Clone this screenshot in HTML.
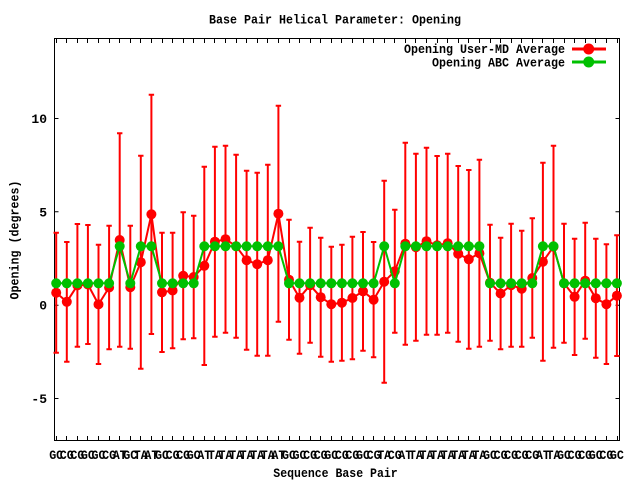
<!DOCTYPE html>
<html><head><meta charset="utf-8"><style>
html,body{margin:0;padding:0;background:#fff;}
svg{display:block;}
text{font-family:"Liberation Mono","DejaVu Sans Mono",monospace;font-weight:bold;font-size:13px;fill:#000;}
</style></head><body>
<svg width="640" height="480" viewBox="0 0 640 480" xmlns="http://www.w3.org/2000/svg">
<defs>
<circle id="r" r="5" fill="#ff0000"/>
<circle id="g" r="5" fill="#00c000"/>
</defs>
<rect x="0" y="0" width="640" height="480" fill="#fff"/>
<text x="209" y="23.3" textLength="252" lengthAdjust="spacingAndGlyphs">Base Pair Helical Parameter: Opening</text>
<rect x="54.5" y="38.5" width="565" height="402" fill="none" stroke="#000" stroke-width="1"/>
<path d="M54.5 118.5h4M54.5 211.8h4M54.5 305.2h4M54.5 398.5h4M619.5 118.5h-4M619.5 211.8h-4M619.5 305.2h-4M619.5 398.5h-4" stroke="#000" stroke-width="1"/>
<g text-anchor="end">
<text x="47" y="123">10</text>
<text x="47" y="216.3">5</text>
<text x="47" y="309.7">0</text>
<text x="47" y="403">-5</text>
</g>
<path stroke="#000" stroke-width="1" d="M56.5 440v-4M56.5 39v4M66.5 440v-4M66.5 39v4M77.5 440v-4M77.5 39v4M87.5 440v-4M87.5 39v4M98.5 440v-4M98.5 39v4M109.5 440v-4M109.5 39v4M119.5 440v-4M119.5 39v4M130.5 440v-4M130.5 39v4M140.5 440v-4M140.5 39v4M151.5 440v-4M151.5 39v4M162.5 440v-4M162.5 39v4M172.5 440v-4M172.5 39v4M183.5 440v-4M183.5 39v4M193.5 440v-4M193.5 39v4M204.5 440v-4M204.5 39v4M214.5 440v-4M214.5 39v4M225.5 440v-4M225.5 39v4M236.5 440v-4M236.5 39v4M246.5 440v-4M246.5 39v4M257.5 440v-4M257.5 39v4M267.5 440v-4M267.5 39v4M278.5 440v-4M278.5 39v4M289.5 440v-4M289.5 39v4M299.5 440v-4M299.5 39v4M310.5 440v-4M310.5 39v4M320.5 440v-4M320.5 39v4M331.5 440v-4M331.5 39v4M341.5 440v-4M341.5 39v4M352.5 440v-4M352.5 39v4M363.5 440v-4M363.5 39v4M373.5 440v-4M373.5 39v4M384.5 440v-4M384.5 39v4M394.5 440v-4M394.5 39v4M405.5 440v-4M405.5 39v4M415.5 440v-4M415.5 39v4M426.5 440v-4M426.5 39v4M437.5 440v-4M437.5 39v4M447.5 440v-4M447.5 39v4M458.5 440v-4M458.5 39v4M468.5 440v-4M468.5 39v4M479.5 440v-4M479.5 39v4M490.5 440v-4M490.5 39v4M500.5 440v-4M500.5 39v4M511.5 440v-4M511.5 39v4M521.5 440v-4M521.5 39v4M532.5 440v-4M532.5 39v4M542.5 440v-4M542.5 39v4M553.5 440v-4M553.5 39v4M564.5 440v-4M564.5 39v4M574.5 440v-4M574.5 39v4M585.5 440v-4M585.5 39v4M595.5 440v-4M595.5 39v4M606.5 440v-4M606.5 39v4M617.5 440v-4M617.5 39v4"/>
<g>
<text x="49.2" y="459" textLength="14" lengthAdjust="spacingAndGlyphs">GC</text>
<text x="59.8" y="459" textLength="14" lengthAdjust="spacingAndGlyphs">CG</text>
<text x="70.4" y="459" textLength="14" lengthAdjust="spacingAndGlyphs">CG</text>
<text x="80.9" y="459" textLength="14" lengthAdjust="spacingAndGlyphs">GC</text>
<text x="91.5" y="459" textLength="14" lengthAdjust="spacingAndGlyphs">GC</text>
<text x="102.1" y="459" textLength="14" lengthAdjust="spacingAndGlyphs">CG</text>
<text x="112.7" y="459" textLength="14" lengthAdjust="spacingAndGlyphs">AT</text>
<text x="123.3" y="459" textLength="14" lengthAdjust="spacingAndGlyphs">GC</text>
<text x="133.8" y="459" textLength="14" lengthAdjust="spacingAndGlyphs">TA</text>
<text x="144.4" y="459" textLength="14" lengthAdjust="spacingAndGlyphs">AT</text>
<text x="155" y="459" textLength="14" lengthAdjust="spacingAndGlyphs">GC</text>
<text x="165.6" y="459" textLength="14" lengthAdjust="spacingAndGlyphs">CG</text>
<text x="176.2" y="459" textLength="14" lengthAdjust="spacingAndGlyphs">CG</text>
<text x="186.7" y="459" textLength="14" lengthAdjust="spacingAndGlyphs">GC</text>
<text x="197.3" y="459" textLength="14" lengthAdjust="spacingAndGlyphs">AT</text>
<text x="207.9" y="459" textLength="14" lengthAdjust="spacingAndGlyphs">TA</text>
<text x="218.5" y="459" textLength="14" lengthAdjust="spacingAndGlyphs">TA</text>
<text x="229.1" y="459" textLength="14" lengthAdjust="spacingAndGlyphs">TA</text>
<text x="239.6" y="459" textLength="14" lengthAdjust="spacingAndGlyphs">TA</text>
<text x="250.2" y="459" textLength="14" lengthAdjust="spacingAndGlyphs">TA</text>
<text x="260.8" y="459" textLength="14" lengthAdjust="spacingAndGlyphs">TA</text>
<text x="271.4" y="459" textLength="14" lengthAdjust="spacingAndGlyphs">AT</text>
<text x="282" y="459" textLength="14" lengthAdjust="spacingAndGlyphs">GC</text>
<text x="292.5" y="459" textLength="14" lengthAdjust="spacingAndGlyphs">GC</text>
<text x="303.1" y="459" textLength="14" lengthAdjust="spacingAndGlyphs">CG</text>
<text x="313.7" y="459" textLength="14" lengthAdjust="spacingAndGlyphs">CG</text>
<text x="324.3" y="459" textLength="14" lengthAdjust="spacingAndGlyphs">GC</text>
<text x="334.9" y="459" textLength="14" lengthAdjust="spacingAndGlyphs">CG</text>
<text x="345.4" y="459" textLength="14" lengthAdjust="spacingAndGlyphs">CG</text>
<text x="356" y="459" textLength="14" lengthAdjust="spacingAndGlyphs">GC</text>
<text x="366.6" y="459" textLength="14" lengthAdjust="spacingAndGlyphs">CG</text>
<text x="377.2" y="459" textLength="14" lengthAdjust="spacingAndGlyphs">TA</text>
<text x="387.8" y="459" textLength="14" lengthAdjust="spacingAndGlyphs">CG</text>
<text x="398.3" y="459" textLength="14" lengthAdjust="spacingAndGlyphs">AT</text>
<text x="408.9" y="459" textLength="14" lengthAdjust="spacingAndGlyphs">TA</text>
<text x="419.5" y="459" textLength="14" lengthAdjust="spacingAndGlyphs">TA</text>
<text x="430.1" y="459" textLength="14" lengthAdjust="spacingAndGlyphs">TA</text>
<text x="440.7" y="459" textLength="14" lengthAdjust="spacingAndGlyphs">TA</text>
<text x="451.2" y="459" textLength="14" lengthAdjust="spacingAndGlyphs">TA</text>
<text x="461.8" y="459" textLength="14" lengthAdjust="spacingAndGlyphs">TA</text>
<text x="472.4" y="459" textLength="14" lengthAdjust="spacingAndGlyphs">TA</text>
<text x="483" y="459" textLength="14" lengthAdjust="spacingAndGlyphs">GC</text>
<text x="493.6" y="459" textLength="14" lengthAdjust="spacingAndGlyphs">CG</text>
<text x="504.1" y="459" textLength="14" lengthAdjust="spacingAndGlyphs">CG</text>
<text x="514.7" y="459" textLength="14" lengthAdjust="spacingAndGlyphs">CG</text>
<text x="525.3" y="459" textLength="14" lengthAdjust="spacingAndGlyphs">CG</text>
<text x="535.9" y="459" textLength="14" lengthAdjust="spacingAndGlyphs">AT</text>
<text x="546.5" y="459" textLength="14" lengthAdjust="spacingAndGlyphs">TA</text>
<text x="557" y="459" textLength="14" lengthAdjust="spacingAndGlyphs">GC</text>
<text x="567.6" y="459" textLength="14" lengthAdjust="spacingAndGlyphs">CG</text>
<text x="578.2" y="459" textLength="14" lengthAdjust="spacingAndGlyphs">CG</text>
<text x="588.8" y="459" textLength="14" lengthAdjust="spacingAndGlyphs">GC</text>
<text x="599.4" y="459" textLength="14" lengthAdjust="spacingAndGlyphs">CG</text>
<text x="609.9" y="459" textLength="14" lengthAdjust="spacingAndGlyphs">GC</text>
</g>
<text x="273.3" y="477" textLength="124.4" lengthAdjust="spacingAndGlyphs">Sequence Base Pair</text>
<text transform="translate(18.5,240) rotate(-90)" text-anchor="middle" textLength="119" lengthAdjust="spacingAndGlyphs">Opening (degrees)</text>
<path fill="none" stroke="#ff0000" stroke-width="2" d="M56.2 232.7V352.7M53.5 232.7h5.4M53.5 352.7h5.4M66.8 242V361.7M64.1 242h5.4M64.1 361.7h5.4M77.4 224V346.7M74.7 224h5.4M74.7 346.7h5.4M87.9 225V344M85.2 225h5.4M85.2 344h5.4M98.5 244.7V364M95.8 244.7h5.4M95.8 364h5.4M109.1 225.7V349.3M106.4 225.7h5.4M106.4 349.3h5.4M119.7 133.3V346.7M117 133.3h5.4M117 346.7h5.4M130.3 225.7V348.7M127.6 225.7h5.4M127.6 348.7h5.4M140.8 155.7V368.7M138.1 155.7h5.4M138.1 368.7h5.4M151.4 94.7V334M148.7 94.7h5.4M148.7 334h5.4M162 232.7V352M159.3 232.7h5.4M159.3 352h5.4M172.6 232.7V348.3M169.9 232.7h5.4M169.9 348.3h5.4M183.2 212.3V339.3M180.5 212.3h5.4M180.5 339.3h5.4M193.7 215.7V338.3M191 215.7h5.4M191 338.3h5.4M204.3 166.7V365M201.6 166.7h5.4M201.6 365h5.4M214.9 146.7V336.7M212.2 146.7h5.4M212.2 336.7h5.4M225.5 145.7V332.7M222.8 145.7h5.4M222.8 332.7h5.4M236.1 154.7V337.7M233.4 154.7h5.4M233.4 337.7h5.4M246.6 170.7V349.7M243.9 170.7h5.4M243.9 349.7h5.4M257.2 172.7V355.7M254.5 172.7h5.4M254.5 355.7h5.4M267.8 164.7V355.7M265.1 164.7h5.4M265.1 355.7h5.4M278.4 105.7V321.7M275.7 105.7h5.4M275.7 321.7h5.4M289 219.7V339.7M286.3 219.7h5.4M286.3 339.7h5.4M299.5 241.7V353.7M296.8 241.7h5.4M296.8 353.7h5.4M310.1 227.7V342.7M307.4 227.7h5.4M307.4 342.7h5.4M320.7 237.7V356.7M318 237.7h5.4M318 356.7h5.4M331.3 246.7V361.7M328.6 246.7h5.4M328.6 361.7h5.4M341.9 244.7V360.7M339.2 244.7h5.4M339.2 360.7h5.4M352.4 236.7V359.3M349.7 236.7h5.4M349.7 359.3h5.4M363 232V350.7M360.3 232h5.4M360.3 350.7h5.4M373.6 242V357.3M370.9 242h5.4M370.9 357.3h5.4M384.2 180.7V382.7M381.5 180.7h5.4M381.5 382.7h5.4M394.8 209.7V332.7M392.1 209.7h5.4M392.1 332.7h5.4M405.3 142.7V344.7M402.6 142.7h5.4M402.6 344.7h5.4M415.9 153.7V340.7M413.2 153.7h5.4M413.2 340.7h5.4M426.5 147.7V334.7M423.8 147.7h5.4M423.8 334.7h5.4M437.1 156V334.7M434.4 156h5.4M434.4 334.7h5.4M447.7 153.7V332.7M445 153.7h5.4M445 332.7h5.4M458.2 166V341.7M455.5 166h5.4M455.5 341.7h5.4M468.8 170V348.7M466.1 170h5.4M466.1 348.7h5.4M479.4 159.7V346.7M476.7 159.7h5.4M476.7 346.7h5.4M490 224.7V340.7M487.3 224.7h5.4M487.3 340.7h5.4M500.6 237.7V349.3M497.9 237.7h5.4M497.9 349.3h5.4M511.1 223.7V346.7M508.4 223.7h5.4M508.4 346.7h5.4M521.7 230.7V346.7M519 230.7h5.4M519 346.7h5.4M532.3 218.3V337.7M529.6 218.3h5.4M529.6 337.7h5.4M542.9 162.7V360.7M540.2 162.7h5.4M540.2 360.7h5.4M553.5 145.7V347.7M550.8 145.7h5.4M550.8 347.7h5.4M564 223.7V342.7M561.3 223.7h5.4M561.3 342.7h5.4M574.6 238.7V355M571.9 238.7h5.4M571.9 355h5.4M585.2 222.7V338.7M582.5 222.7h5.4M582.5 338.7h5.4M595.8 238.7V357.7M593.1 238.7h5.4M593.1 357.7h5.4M606.4 244.3V364M603.7 244.3h5.4M603.7 364h5.4M616.9 235.3V356M614.2 235.3h5.4M614.2 356h5.4"/>
<polyline fill="none" stroke="#ff0000" stroke-width="2" stroke-linejoin="round" points="56.2,292.7 66.8,301.8 77.4,285.4 87.9,284.5 98.5,304.4 109.1,287.5 119.7,240 130.3,287.2 140.8,262.2 151.4,214.3 162,292.3 172.6,290.5 183.2,275.8 193.7,277 204.3,265.8 214.9,241.7 225.5,239.2 236.1,246.2 246.6,260.2 257.2,264.2 267.8,260.2 278.4,213.7 289,279.7 299.5,297.7 310.1,285.2 320.7,297.2 331.3,304.2 341.9,302.7 352.4,298 363,291.3 373.6,299.7 384.2,281.7 394.8,271.2 405.3,243.7 415.9,247.2 426.5,241.2 437.1,245.3 447.7,243.2 458.2,253.8 468.8,259.3 479.4,253.2 490,282.7 500.6,293.5 511.1,285.2 521.7,288.7 532.3,278 542.9,261.7 553.5,246.7 564,283.2 574.6,296.8 585.2,280.7 595.8,298.2 606.4,304.2 616.9,295.7"/>
<use href="#r" x="56.2" y="292.7"/><use href="#r" x="66.8" y="301.8"/><use href="#r" x="77.4" y="285.4"/><use href="#r" x="87.9" y="284.5"/><use href="#r" x="98.5" y="304.4"/><use href="#r" x="109.1" y="287.5"/><use href="#r" x="119.7" y="240"/><use href="#r" x="130.3" y="287.2"/><use href="#r" x="140.8" y="262.2"/><use href="#r" x="151.4" y="214.3"/><use href="#r" x="162" y="292.3"/><use href="#r" x="172.6" y="290.5"/><use href="#r" x="183.2" y="275.8"/><use href="#r" x="193.7" y="277"/><use href="#r" x="204.3" y="265.8"/><use href="#r" x="214.9" y="241.7"/><use href="#r" x="225.5" y="239.2"/><use href="#r" x="236.1" y="246.2"/><use href="#r" x="246.6" y="260.2"/><use href="#r" x="257.2" y="264.2"/><use href="#r" x="267.8" y="260.2"/><use href="#r" x="278.4" y="213.7"/><use href="#r" x="289" y="279.7"/><use href="#r" x="299.5" y="297.7"/><use href="#r" x="310.1" y="285.2"/><use href="#r" x="320.7" y="297.2"/><use href="#r" x="331.3" y="304.2"/><use href="#r" x="341.9" y="302.7"/><use href="#r" x="352.4" y="298"/><use href="#r" x="363" y="291.3"/><use href="#r" x="373.6" y="299.7"/><use href="#r" x="384.2" y="281.7"/><use href="#r" x="394.8" y="271.2"/><use href="#r" x="405.3" y="243.7"/><use href="#r" x="415.9" y="247.2"/><use href="#r" x="426.5" y="241.2"/><use href="#r" x="437.1" y="245.3"/><use href="#r" x="447.7" y="243.2"/><use href="#r" x="458.2" y="253.8"/><use href="#r" x="468.8" y="259.3"/><use href="#r" x="479.4" y="253.2"/><use href="#r" x="490" y="282.7"/><use href="#r" x="500.6" y="293.5"/><use href="#r" x="511.1" y="285.2"/><use href="#r" x="521.7" y="288.7"/><use href="#r" x="532.3" y="278"/><use href="#r" x="542.9" y="261.7"/><use href="#r" x="553.5" y="246.7"/><use href="#r" x="564" y="283.2"/><use href="#r" x="574.6" y="296.8"/><use href="#r" x="585.2" y="280.7"/><use href="#r" x="595.8" y="298.2"/><use href="#r" x="606.4" y="304.2"/><use href="#r" x="616.9" y="295.7"/>
<polyline fill="none" stroke="#00c000" stroke-width="2" stroke-linejoin="round" points="56.2,283.3 109.1,283.3 119.7,246.3 130.3,283.3 140.8,246.3 151.4,246.3 162,283.3 193.7,283.3 204.3,246.3 278.4,246.3 289,283.3 373.6,283.3 384.2,246.3 394.8,283.3 405.3,246.3 479.4,246.3 490,283.3 532.3,283.3 542.9,246.3 553.5,246.3 564,283.3 616.9,283.3"/>
<use href="#g" x="56.2" y="283.3"/><use href="#g" x="66.8" y="283.3"/><use href="#g" x="77.4" y="283.3"/><use href="#g" x="87.9" y="283.3"/><use href="#g" x="98.5" y="283.3"/><use href="#g" x="109.1" y="283.3"/><use href="#g" x="119.7" y="246.3"/><use href="#g" x="130.3" y="283.3"/><use href="#g" x="140.8" y="246.3"/><use href="#g" x="151.4" y="246.3"/><use href="#g" x="162" y="283.3"/><use href="#g" x="172.6" y="283.3"/><use href="#g" x="183.2" y="283.3"/><use href="#g" x="193.7" y="283.3"/><use href="#g" x="204.3" y="246.3"/><use href="#g" x="214.9" y="246.3"/><use href="#g" x="225.5" y="246.3"/><use href="#g" x="236.1" y="246.3"/><use href="#g" x="246.6" y="246.3"/><use href="#g" x="257.2" y="246.3"/><use href="#g" x="267.8" y="246.3"/><use href="#g" x="278.4" y="246.3"/><use href="#g" x="289" y="283.3"/><use href="#g" x="299.5" y="283.3"/><use href="#g" x="310.1" y="283.3"/><use href="#g" x="320.7" y="283.3"/><use href="#g" x="331.3" y="283.3"/><use href="#g" x="341.9" y="283.3"/><use href="#g" x="352.4" y="283.3"/><use href="#g" x="363" y="283.3"/><use href="#g" x="373.6" y="283.3"/><use href="#g" x="384.2" y="246.3"/><use href="#g" x="394.8" y="283.3"/><use href="#g" x="405.3" y="246.3"/><use href="#g" x="415.9" y="246.3"/><use href="#g" x="426.5" y="246.3"/><use href="#g" x="437.1" y="246.3"/><use href="#g" x="447.7" y="246.3"/><use href="#g" x="458.2" y="246.3"/><use href="#g" x="468.8" y="246.3"/><use href="#g" x="479.4" y="246.3"/><use href="#g" x="490" y="283.3"/><use href="#g" x="500.6" y="283.3"/><use href="#g" x="511.1" y="283.3"/><use href="#g" x="521.7" y="283.3"/><use href="#g" x="532.3" y="283.3"/><use href="#g" x="542.9" y="246.3"/><use href="#g" x="553.5" y="246.3"/><use href="#g" x="564" y="283.3"/><use href="#g" x="574.6" y="283.3"/><use href="#g" x="585.2" y="283.3"/><use href="#g" x="595.8" y="283.3"/><use href="#g" x="606.4" y="283.3"/><use href="#g" x="616.9" y="283.3"/>
<text x="565" y="53" text-anchor="end" textLength="161" lengthAdjust="spacingAndGlyphs">Opening User-MD Average</text>
<text x="565" y="66.5" text-anchor="end" textLength="133" lengthAdjust="spacingAndGlyphs">Opening ABC Average</text>
<path d="M572 49h34" stroke="#ff0000" stroke-width="3"/>
<circle cx="588.7" cy="49" r="5.5" fill="#ff0000"/>
<path d="M572 62h34" stroke="#00c000" stroke-width="3"/>
<circle cx="588.7" cy="62" r="5.5" fill="#00c000"/>
</svg>
</body></html>
